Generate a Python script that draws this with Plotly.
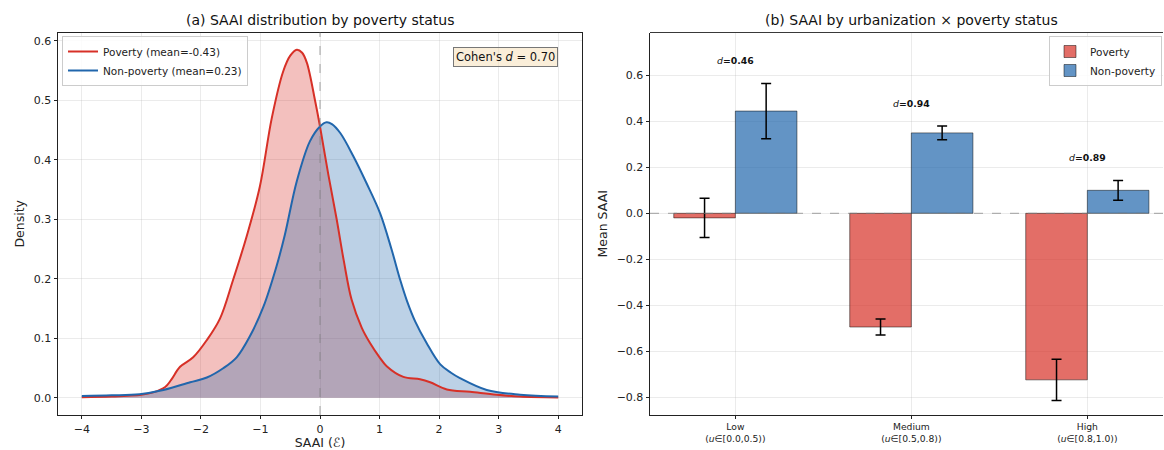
import plotly.graph_objects as go

# ---------------- data ----------------
pov_x = [-4.0, -3.5, -3.0, -2.8, -2.6, -2.5, -2.35, -2.13, -1.9, -1.68, -1.46, -1.23,
         -1.01, -0.81, -0.62, -0.5, -0.39, -0.3, -0.22, -0.08, 0.0, 0.14, 0.28, 0.4,
         0.53, 0.7, 0.84, 1.0, 1.12, 1.4, 1.68, 1.85, 2.13, 2.52, 2.97, 3.36, 4.0]
pov_y = [0.001, 0.002, 0.005, 0.009, 0.018, 0.03, 0.052, 0.068, 0.097, 0.133, 0.198, 0.272,
         0.355, 0.47, 0.548, 0.575, 0.585, 0.58, 0.563, 0.498, 0.456, 0.375, 0.30, 0.23,
         0.165, 0.118, 0.092, 0.068, 0.053, 0.035, 0.031, 0.026, 0.014, 0.010, 0.005, 0.002, 0.0005]

non_x = [-4.0, -3.5, -3.03, -2.63, -2.18, -1.9, -1.62, -1.4, -1.18, -0.95, -0.73, -0.59,
         -0.39, -0.17, 0.0, 0.11, 0.2, 0.34, 0.56, 0.78, 1.01, 1.2, 1.35, 1.46, 1.6,
         1.79, 2.02, 2.2, 2.35, 2.8, 3.36, 4.0]
non_y = [0.003, 0.004, 0.006, 0.013, 0.026, 0.034, 0.05, 0.068, 0.103, 0.153, 0.221, 0.274,
         0.364, 0.431, 0.456, 0.463, 0.46, 0.445, 0.406, 0.361, 0.31, 0.25, 0.197, 0.163, 0.128,
         0.092, 0.056, 0.042, 0.033, 0.013, 0.005, 0.002]

pov_mean_label = "Poverty (mean=-0.43)"
non_mean_label = "Non-poverty (mean=0.23)"
cohens_d_overall = "0.70"

urban_cats = ["Low<br>(<i>u</i>∈[0.0,0.5))", "Medium<br>(<i>u</i>∈[0.5,0.8))", "High<br>(<i>u</i>∈[0.8,1.0))"]
pov_means = [-0.02, -0.495, -0.725]
pov_err = [0.085, 0.035, 0.09]
non_means = [0.445, 0.35, 0.10]
non_err = [0.12, 0.03, 0.043]
d_vals = ["0.46", "0.94", "0.89"]

# ---------------- style ----------------
RED = "#d73027"
BLUE = "#2166ac"
FONT = "DejaVu Sans"
W, H = 1164, 450

def px_x(p):
    return p / W

def px_y(p):
    return 1 - p / H

fig = go.Figure()

# Left panel: KDE fills first, then lines on top
fig.add_trace(go.Scatter(x=pov_x, y=pov_y, mode="lines", line=dict(color=RED, width=0, shape="spline", smoothing=1.0),
                         fill="tozeroy", fillcolor="rgba(215,48,39,0.3)", showlegend=False, hoverinfo="skip",
                         xaxis="x", yaxis="y"))
fig.add_trace(go.Scatter(x=non_x, y=non_y, mode="lines", line=dict(color=BLUE, width=0, shape="spline", smoothing=1.0),
                         fill="tozeroy", fillcolor="rgba(33,102,172,0.3)", showlegend=False, hoverinfo="skip",
                         xaxis="x", yaxis="y"))
fig.add_trace(go.Scatter(x=pov_x, y=pov_y, mode="lines", line=dict(color=RED, width=2, shape="spline", smoothing=1.0),
                         name=pov_mean_label, legend="legend", xaxis="x", yaxis="y"))
fig.add_trace(go.Scatter(x=non_x, y=non_y, mode="lines", line=dict(color=BLUE, width=2, shape="spline", smoothing=1.0),
                         name=non_mean_label, legend="legend", xaxis="x", yaxis="y"))

# Right panel: bars
cat_idx = [0, 1, 2]
fig.add_trace(go.Bar(x=cat_idx, y=pov_means, name="Poverty", marker=dict(color="rgba(215,48,39,0.7)",
                     line=dict(color="rgba(0,0,0,0.6)", width=0.8)),
                     error_y=dict(type="data", array=pov_err, color="black", thickness=1.5, width=5),
                     legend="legend2", xaxis="x2", yaxis="y2"))
fig.add_trace(go.Bar(x=cat_idx, y=non_means, name="Non-poverty", marker=dict(color="rgba(33,102,172,0.7)",
                     line=dict(color="rgba(0,0,0,0.6)", width=0.8)),
                     error_y=dict(type="data", array=non_err, color="black", thickness=1.5, width=5),
                     legend="legend2", xaxis="x2", yaxis="y2"))

TICKF = dict(size=11, color="#222", family=FONT)
axis_common = dict(showline=True, linecolor="#222", linewidth=0.9, ticks="outside", ticklen=3.5,
                   tickwidth=0.8, tickcolor="#222", showgrid=True, gridcolor="rgba(176,176,176,0.25)",
                   gridwidth=0.8, zeroline=False)

fig.update_layout(
    width=W, height=H, margin=dict(l=0, r=0, t=0, b=0),
    paper_bgcolor="white", plot_bgcolor="white",
    font=dict(family=FONT, color="#222"),
    barmode="group", bargap=0.3, bargroupgap=0,
    xaxis=dict(domain=[px_x(58), px_x(582)], range=[-4.4, 4.4], tickvals=[-4, -3, -2, -1, 0, 1, 2, 3, 4],
               ticktext=["\u22124", "\u22123", "\u22122", "\u22121", "0", "1", "2", "3", "4"],
               mirror=True, anchor="y", tickfont=TICKF,
               title=dict(text="SAAI (<i>ℰ</i>)", font=dict(size=12.5, family=FONT), standoff=4),
               **axis_common),
    yaxis=dict(domain=[px_y(415), px_y(32.5)], range=[-0.029, 0.614], tickvals=[0, 0.1, 0.2, 0.3, 0.4, 0.5, 0.6],
               tickformat=".1f", mirror=True, anchor="x", tickfont=TICKF,
               title=dict(text="Density", font=dict(size=12.5, family=FONT), standoff=6),
               **axis_common),
    xaxis2=dict(domain=[px_x(650), px_x(1163)], range=[-0.485, 2.43], tickvals=cat_idx, ticktext=urban_cats,
                mirror=False, anchor="y2", tickfont=dict(size=9.2, color="#222", family=FONT),
                **axis_common),
    yaxis2=dict(domain=[px_y(415), px_y(32.5)], range=[-0.878, 0.787],
                tickvals=[-0.8, -0.6, -0.4, -0.2, 0, 0.2, 0.4, 0.6],
                ticktext=["\u22120.8", "\u22120.6", "\u22120.4", "\u22120.2", "0.0", "0.2", "0.4", "0.6"],
                anchor="x2", tickfont=TICKF,
                title=dict(text="Mean SAAI", font=dict(size=12.5, family=FONT), standoff=6),
                **axis_common),
    legend=dict(x=px_x(62), y=px_y(36), xanchor="left", yanchor="top", bgcolor="rgba(255,255,255,0.85)",
                bordercolor="#cccccc", borderwidth=1, font=dict(size=10.5, family=FONT),
                tracegroupgap=0, itemwidth=30),
    legend2=dict(x=px_x(1162), y=px_y(36), xanchor="right", yanchor="top", bgcolor="rgba(255,255,255,0.85)",
                 bordercolor="#cccccc", borderwidth=1, font=dict(size=10.5, family=FONT),
                 tracegroupgap=0, itemwidth=30),
    showlegend=True,
)

# Top spine for right panel
fig.add_shape(type="line", xref="x2 domain", yref="y2 domain", x0=0, x1=1, y0=1, y1=1,
              line=dict(color="#222", width=0.9))
# Reference lines
fig.add_shape(type="line", xref="x", yref="y domain", x0=0, x1=0, y0=0, y1=1,
              line=dict(color="gray", width=0.9, dash="dash"), opacity=0.8)
fig.add_shape(type="line", xref="x2 domain", yref="y2", x0=0, x1=1, y0=0, y1=0,
              line=dict(color="gray", width=0.9, dash="dash"), opacity=0.8)

annotations = [
    dict(text="(a) SAAI distribution by poverty status", xref="paper", yref="paper",
         x=px_x(320), y=px_y(20), xanchor="center", yanchor="middle", showarrow=False,
         font=dict(size=14, family=FONT, color="#111")),
    dict(text="(b) SAAI by urbanization × poverty status", xref="paper", yref="paper",
         x=px_x(911.5), y=px_y(20), xanchor="center", yanchor="middle", showarrow=False,
         font=dict(size=14, family=FONT, color="#111")),
    dict(text=f"Cohen's <i>d</i> = {cohens_d_overall}", xref="paper", yref="paper",
         x=px_x(505), y=px_y(57), xanchor="center", yanchor="middle", showarrow=False,
         bgcolor="rgba(245,222,179,0.5)", bordercolor="#777", borderwidth=1, borderpad=2,
         font=dict(size=11.5, family=FONT, color="#111")),
]
for i in range(3):
    top = max(pov_means[i] + pov_err[i], non_means[i] + non_err[i])
    annotations.append(dict(text=f"<i>d</i><b>={d_vals[i]}</b>", xref="x2", yref="y2", x=cat_idx[i], y=top + 0.1,
                            xanchor="center", yanchor="middle", showarrow=False,
                            font=dict(size=9.3, family=FONT, color="#111")))
fig.update_layout(annotations=annotations)

fig.write_html("out.html")
